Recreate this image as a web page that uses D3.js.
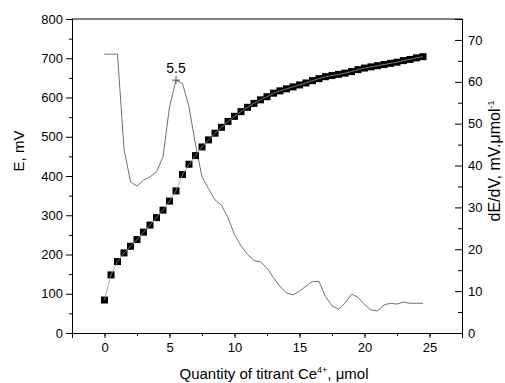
<!DOCTYPE html>
<html>
<head>
<meta charset="utf-8">
<script src="https://cdn.jsdelivr.net/npm/d3@7"></script>
<style>
  body { margin: 0; background: #fff; }
  text { font-family: "Liberation Sans", Arial, sans-serif; fill: #000; }
</style>
</head>
<body>
<div id="canvas"></div>
<script>
// titrant volume, umol (0.5 steps)
var vol = [0,0.5,1,1.5,2,2.5,3,3.5,4,4.5,5,5.5,6,6.5,7,7.5,8,8.5,9,9.5,
  10,10.5,11,11.5,12,12.5,13,13.5,14,14.5,15,15.5,16,16.5,17,17.5,18,18.5,19,19.5,
  20,20.5,21,21.5,22,22.5,23,23.5,24,24.5];
// potential E, mV
var emf = [84,148,182,204,221,238,257,275,294,313,336,362,404,430,452,474,492,509,524,539,
  552,564,575,585,594,602,611,617,622,627,632,637,643,648,653,656,659,662,666,671,
  675,678,681,684,687,690,694,697,701,704];
// first derivative dE/dV
var deriv = [66.6,66.6,66.6,44,36.1,35.1,36.5,37.3,38.5,42.1,54,60.4,59.6,54,45,37.3,34.5,31.8,30.5,27.5,
  23.5,20.8,18.8,17.3,17,15.5,13.2,11.1,9.6,9.1,10,11.2,12.3,12.3,8.7,6.5,5.7,7.1,9.3,8.5,
  6.8,5.5,5.3,6.7,7.1,6.9,7.4,7.1,7.1,7.1];
var peakX = 5.5, peakLabel = "5.5";

var w = 505, h = 383;
var m = {left: 72, right: 43, top: 19, bottom: 50};

var svg = d3.select("#canvas").append("svg")
    .attr("width", w)
    .attr("height", h)

var x = d3.scaleLinear().domain([-2.5, 27.5]).range([m.left, w - m.right]);
var yL = d3.scaleLinear().domain([0, 800]).range([h - m.bottom, m.top]);
var yR = d3.scaleLinear().domain([0, 75]).range([h - m.bottom, m.top]);

// minor ticks first, then major with labels
svg.append("g")
    .attr("transform", `translate(0,${h - m.bottom})`)
    .call(d3.axisBottom(x).tickValues(d3.range(-2.5, 27.6, 2.5)).tickSize(3).tickFormat(""))
svg.append("g")
    .attr("class", "ax")
    .attr("transform", `translate(0,${h - m.bottom})`)
    .call(d3.axisBottom(x).tickValues([0,5,10,15,20,25]).tickSize(5).tickPadding(5))

svg.append("g")
    .attr("transform", `translate(${m.left},0)`)
    .call(d3.axisLeft(yL).tickValues(d3.range(50, 800, 100)).tickSize(3).tickFormat(""))
svg.append("g")
    .attr("class", "ax")
    .attr("transform", `translate(${m.left},0)`)
    .call(d3.axisLeft(yL).tickValues(d3.range(0, 801, 100)).tickSize(6).tickPadding(3))

svg.append("g")
    .attr("transform", `translate(${w - m.right},0)`)
    .call(d3.axisRight(yR).tickValues(d3.range(5, 75, 10)).tickSize(-4).tickFormat(""))
svg.append("g")
    .attr("class", "ax")
    .attr("transform", `translate(${w - m.right},0)`)
    .call(d3.axisRight(yR).tickValues(d3.range(0, 71, 10)).tickSize(-7).tickPadding(6))

svg.selectAll("g.ax text").style("font-size", "13px")
    .style("font-family", '"Liberation Sans", Arial, sans-serif')
svg.selectAll(".domain").attr("stroke", "#000")

// top frame
svg.append("line")
    .attr("x1", m.left).attr("x2", w - m.right)
    .attr("y1", m.top).attr("y2", m.top)
    .attr("stroke", "#000")

// derivative curve
var dLine = d3.line().x((d, i) => x(vol[i])).y(d => yR(d));
svg.append("path")
    .datum(deriv)
    .attr("d", dLine)
    .attr("fill", "none")
    .attr("stroke", "#707070")
    .attr("stroke-width", 1)

// peak marker
var pi = vol.indexOf(peakX);
var px = x(peakX), py = yR(deriv[pi]);
svg.append("path")
    .attr("d", `M${px-4},${py}H${px+4}M${px},${py-4}V${py+4}`)
    .attr("stroke", "#555")
    .attr("stroke-width", 1)
svg.append("text")
    .attr("x", px).attr("y", py - 7)
    .attr("text-anchor", "middle")
    .style("font-size", "14px")
    .text(peakLabel)

// potential curve with squares
var eLine = d3.line().x((d, i) => x(vol[i])).y(d => yL(d));
svg.selectAll("rect.pt")
    .data(emf)
    .enter()
    .append("rect")
    .attr("class", "pt")
    .attr("x", (d, i) => x(vol[i]) - 3.5)
    .attr("y", d => yL(d) - 3.5)
    .attr("width", 7)
    .attr("height", 7)
    .attr("fill", "#000")
svg.append("path")
    .datum(emf)
    .attr("d", eLine)
    .attr("fill", "none")
    .attr("stroke", "#999")
    .attr("stroke-width", 0.8)

// axis titles
svg.append("text")
    .attr("transform", `translate(24,151)rotate(-90)`)
    .attr("text-anchor", "middle")
    .style("font-size", "15px")
    .text("E, mV")

var rt = svg.append("text")
    .attr("transform", `translate(500,161)rotate(-90)`)
    .attr("text-anchor", "middle")
    .style("font-size", "16px")
rt.append("tspan").text("dE/dV, mV.\u03bcmol")
rt.append("tspan").attr("dy", -6).style("font-size", "9px").text("-1")

var xt = svg.append("text")
    .attr("x", 274).attr("y", 379)
    .attr("text-anchor", "middle")
    .style("font-size", "15px")
xt.append("tspan").text("Quantity of titrant Ce")
xt.append("tspan").attr("dy", -6).style("font-size", "9px").text("4+")
xt.append("tspan").attr("dy", 6).text(", \u03bcmol")
</script>
</body>
</html>
